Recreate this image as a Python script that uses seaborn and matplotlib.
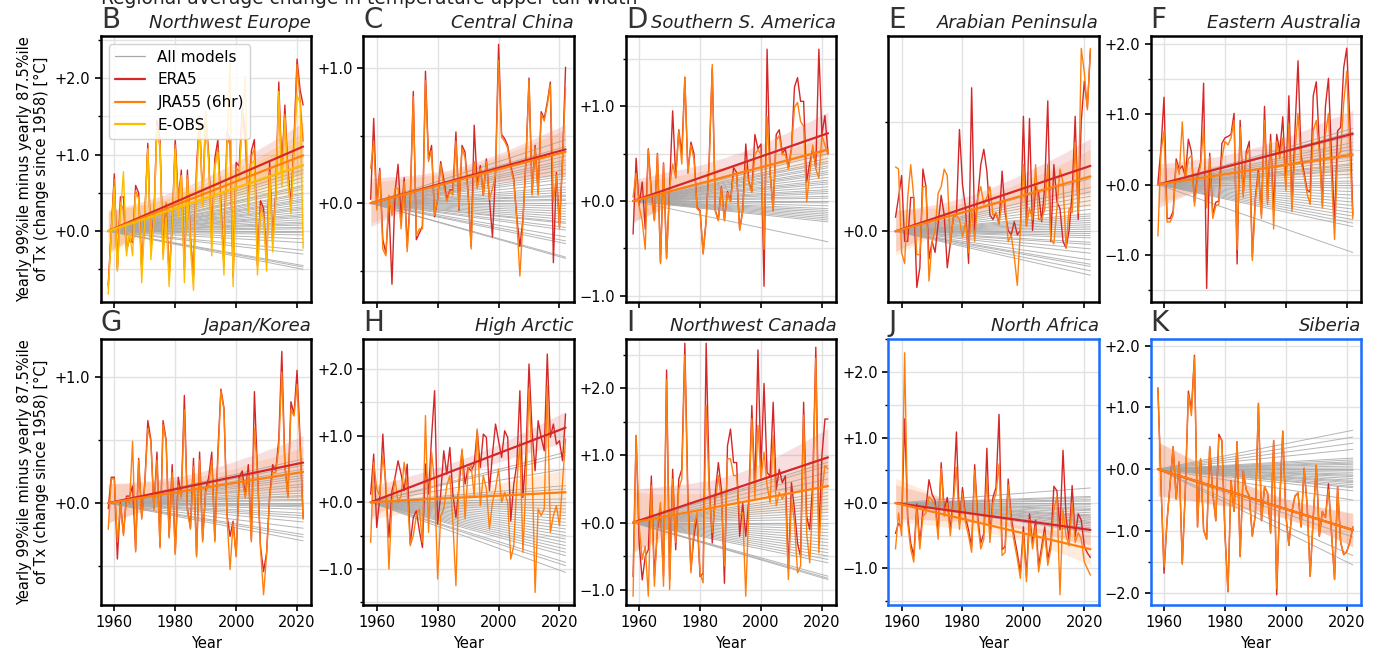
import matplotlib
matplotlib.use('Agg')
import matplotlib.pyplot as plt
from matplotlib.lines import Line2D
from matplotlib.ticker import MultipleLocator, FuncFormatter
import numpy as np
import pandas as pd
import seaborn as sns

years = np.arange(1958, 2023)

# B Northwest Europe
nw_europe_era5 = [-0.70, 0.00, 0.75, -0.50, 0.45, 0.45, -0.25, -0.10, -0.15, 0.60,
                  0.50, -0.50, 0.20, 1.15, -0.25, 0.20, 1.45, 1.20, -0.30, 0.35,
                  -0.60, 0.10, 1.20, 0.40, 0.80, -0.50, 0.80, -0.10, -0.60, 0.85,
                  1.50, 0.40, 1.55, 1.00, -0.15, 0.95, 1.20, 0.35, -0.45, 1.30,
                  1.20, -0.60, 0.90, 0.85, 1.60, 1.30, 0.40, 1.05, 1.20, -0.45,
                  0.40, 0.30, -0.40, 0.90, -0.15, 0.50, 1.95, 0.80, 1.65, 0.80,
                  0.35, 1.20, 2.25, 1.85, 1.65]
nw_europe_jra55 = [-0.72, 0.05, 0.70, -0.45, 0.40, 0.30, -0.20, -0.05, -0.10, 0.55,
                   0.45, -0.45, 0.25, 1.10, -0.20, 0.15, 1.40, 1.10, -0.25, 0.40,
                   -0.55, 0.05, 1.15, 0.45, 0.75, -0.45, 0.75, -0.05, -0.55, 0.80,
                   1.45, 0.35, 1.45, 0.95, -0.10, 0.90, 1.10, 0.30, -0.40, 1.25,
                   1.15, -0.55, 0.85, 0.80, 1.50, 1.20, 0.35, 1.00, 1.10, -0.40,
                   0.35, 0.25, -0.35, 0.80, -0.10, 0.45, 1.80, 0.70, 1.55, 0.70,
                   0.30, 1.10, 2.20, 1.75, 1.20]
nw_europe_eobs = [-0.70, 0.10, 0.70, -0.40, 0.35, 0.90, -0.20, 0.10, -0.20, 0.60,
                  0.55, -0.55, 0.30, 1.20, -0.25, 0.25, 1.50, 1.25, -0.25, 0.30,
                  -0.60, 0.20, 1.20, 0.30, 0.85, -0.55, 0.80, -0.10, -0.65, 0.75,
                  1.60, 0.45, 1.70, 1.00, -0.20, 0.95, 1.15, 0.30, -0.45, 1.20,
                  2.35, -0.60, 0.85, 0.80, 1.55, 2.15, 0.35, 1.00, 1.05, -0.45,
                  0.35, 0.30, -0.40, 0.85, -0.15, 0.50, 1.95, 0.70, 1.60, 0.80,
                  0.35, 1.15, 1.90, 1.80, -0.10]
nw_europe_models = [0.85, 0.80, 0.75, 0.70, 0.65, 0.60, 0.58, 0.55, 0.50, 0.48,
                    0.45, 0.42, 0.40, 0.38, 0.35, 0.32, 0.30, 0.28, 0.25, 0.22,
                    0.20, 0.18, 0.15, 0.12, 0.10, 0.08, 0.05, 0.03, 0.00, -0.02,
                    -0.05, -0.10, -0.15, -0.25, -0.30, -0.45, -0.47, -0.50]

# C Central China
c_china_era5 = [0.00, 0.60, -0.05, 0.23, -0.30, -0.40, -0.05, -0.63, 0.05, 0.26,
                -0.15, 0.16, -0.35, 0.00, 0.80, -0.30, -0.25, -0.20, 0.95, 0.30,
                0.40, -0.13, 0.00, 0.28, 0.15, 0.00, 0.07, 0.07, 0.50, -0.08,
                0.40, 0.35, 0.05, -0.35, 0.55, 0.10, 0.25, 0.03, 0.30, 0.00,
                -0.28, 0.20, 1.15, 0.48, 0.45, 0.40, 0.25, 0.15, -0.14, -0.35,
                -0.15, 0.30, 0.90, 0.05, 0.40, 0.05, 0.65, 0.60, 0.72, 0.87,
                -0.47, 0.20, -0.20, 0.30, 0.98]
c_china_jra55 = [0.25, 0.45, -0.06, 0.23, -0.35, -0.40, 0.05, -0.10, 0.10, 0.10,
                 -0.20, 0.15, -0.37, 0.00, 0.78, -0.25, -0.20, -0.20, 0.90, 0.30,
                 0.38, -0.10, 0.02, 0.28, 0.12, 0.00, 0.08, 0.05, 0.45, -0.05,
                 0.40, 0.33, 0.05, -0.35, 0.30, 0.10, 0.25, 0.05, 0.30, 0.02,
                 0.10, 0.20, 1.05, 0.48, 0.45, 0.40, 0.25, 0.15, -0.14, -0.55,
                 -0.15, 0.30, 0.90, 0.05, 0.40, 0.05, 0.65, 0.60, 0.72, 0.87,
                 0.00, 0.20, -0.20, 0.30, 0.85]
c_china_models = [0.47, 0.42, 0.38, 0.35, 0.32, 0.30, 0.28, 0.25, 0.22, 0.20,
                  0.18, 0.15, 0.12, 0.10, 0.08, 0.06, 0.05, 0.03, 0.02, 0.00,
                  -0.02, -0.04, -0.06, -0.08, -0.10, -0.12, -0.14, -0.15, -0.18, -0.20,
                  -0.25, -0.28, -0.30, -0.40, -0.41]

# D Southern S. America
s_america_era5 = [-0.35, 0.45, -0.05, 0.20, -0.30, 0.55, 0.10, -0.20, 0.50, -0.65,
                  0.40, -0.60, 0.15, 0.95, 0.25, 0.75, 0.50, 1.30, 0.30, 0.62,
                  0.50, -0.07, -0.10, -0.55, -0.20, 0.45, 1.40, -0.10, -0.20, 0.15,
                  -0.20, 0.10, 0.00, 0.35, 0.30, -0.30, -0.10, 0.60, 0.20, 0.10,
                  0.70, 0.55, 0.60, -0.90, 1.60, 0.30, -0.10, 0.70, 0.75, 0.50,
                  0.55, 0.35, 0.55, 1.20, 1.30, 1.05, 1.05, 0.20, 0.40, 0.55,
                  0.35, 1.60, 0.70, 0.90, 0.50]
s_america_jra55 = [0.05, 0.30, -0.05, -0.20, -0.50, 0.55, 0.05, -0.20, 0.50, -0.65,
                   0.40, -0.60, 0.15, 0.40, 0.25, 0.75, 0.40, 1.32, 0.30, 0.60,
                   0.45, -0.07, -0.10, -0.55, -0.20, 0.40, 1.45, -0.10, -0.20, 0.15,
                   -0.20, 0.10, 0.00, 0.30, 0.30, -0.30, -0.10, 0.40, 0.20, 0.10,
                   0.50, 0.55, 0.50, -0.50, 0.90, 0.30, -0.10, 0.65, 0.70, 0.50,
                   0.50, 0.35, 0.55, 1.00, 1.05, 0.85, 0.80, 0.00, 0.30, 0.60,
                   0.35, 0.25, 0.70, 0.60, 0.50]
s_america_models = [0.55, 0.50, 0.45, 0.42, 0.40, 0.37, 0.35, 0.32, 0.30, 0.28,
                    0.25, 0.22, 0.20, 0.18, 0.15, 0.12, 0.10, 0.08, 0.05, 0.03,
                    0.00, -0.02, -0.05, -0.08, -0.10, -0.12, -0.14, -0.16, -0.18, -0.20,
                    -0.22, -0.43]

# E Arabian Peninsula
arabia_era5 = [0.06, 0.15, 0.25, -0.05, -0.05, 0.15, 0.15, -0.26, -0.17, 0.28,
               0.20, -0.13, -0.05, -0.10, 0.03, 0.16, 0.07, -0.17, -0.06, 0.06,
               0.07, 0.46, 0.21, 0.10, -0.15, 0.65, 0.00, 0.15, 0.30, 0.37,
               0.27, 0.07, 0.05, 0.08, 0.03, 0.27, 0.08, 0.00, -0.02, 0.04,
               -0.02, 0.00, 0.52, 0.02, 0.51, 0.00, 0.20, 0.17, 0.04, 0.20,
               0.59, -0.05, 0.30, 0.13, 0.10, -0.05, -0.08, 0.00, 0.17, 0.52,
               0.05, 0.50, 0.68, 0.56, 0.82]
arabia_jra55 = [0.29, 0.28, -0.10, -0.15, 0.15, 0.30, 0.15, -0.11, -0.11, 0.20,
                0.20, -0.23, -0.05, 0.00, 0.17, 0.20, 0.28, 0.25, -0.06, 0.06,
                0.07, 0.05, -0.03, 0.04, -0.10, 0.10, -0.05, 0.15, 0.20, 0.12,
                0.15, 0.20, 0.07, 0.08, 0.03, 0.13, 0.13, -0.05, -0.02, -0.12,
                -0.25, 0.00, 0.30, 0.02, 0.10, 0.05, 0.30, 0.05, 0.05, 0.10,
                0.30, -0.04, -0.06, 0.10, 0.28, 0.22, -0.08, 0.10, 0.08, 0.40,
                0.08, 0.83, 0.72, 0.55, 0.83]
arabia_models = [0.24, 0.20, 0.18, 0.16, 0.14, 0.12, 0.10, 0.08, 0.07, 0.06,
                 0.05, 0.04, 0.03, 0.02, 0.01, 0.00, -0.01, -0.02, -0.03, -0.05,
                 -0.06, -0.08, -0.10, -0.13, -0.15, -0.16, -0.18, -0.20]

# F Eastern Australia
e_australia_era5 = [0.00, 0.50, 1.23, -0.50, -0.50, -0.40, 0.35, 0.20, 0.25, 0.10,
                    0.63, 0.45, -0.27, 0.12, 0.30, 1.43, -1.50, 0.43, -0.45, -0.27,
                    -0.25, 0.57, 0.65, 0.67, 0.70, 1.00, -1.15, 0.90, -0.15, 0.45,
                    0.60, -1.05, -0.20, 0.20, -0.45, 1.10, -0.25, 0.70, -0.40, 0.70,
                    0.45, 0.95, -0.05, 1.25, -0.35, 0.75, 1.75, 0.40, 0.15, -0.10,
                    -0.12, 1.25, 1.45, 0.55, -0.30, 1.10, 1.50, 0.40, -0.55, 0.75,
                    0.80, 1.65, 1.93, 0.90, -0.45]
e_australia_jra55 = [-0.70, 0.50, 0.80, -0.50, -0.50, -0.40, 0.35, 0.18, 0.93, 0.10,
                     0.40, 0.45, -0.27, 0.12, 0.30, 0.85, -0.30, 0.43, -0.45, -0.27,
                     -0.25, 0.40, 0.65, 0.60, 0.70, 0.95, -0.90, 0.85, -0.15, 0.45,
                     0.55, -1.05, -0.20, 0.20, -0.45, 0.95, -0.25, 0.65, -0.60, 0.65,
                     0.40, 0.70, -0.05, 0.90, -0.35, 0.50, 1.05, 0.35, 0.15, -0.10,
                     -0.25, 0.80, 0.95, 0.50, -0.30, 0.75, 1.05, 0.15, -0.75, 0.45,
                     0.50, 1.20, 1.65, 0.55, -0.45]
e_australia_models = [0.80, 0.75, 0.70, 0.60, 0.55, 0.50, 0.45, 0.40, 0.35, 0.30,
                      0.28, 0.25, 0.22, 0.20, 0.15, 0.10, 0.05, 0.02, 0.00, -0.05,
                      -0.10, -0.15, -0.20, -0.25, -0.30, -0.35, -0.40, -0.45, -0.50, -0.55,
                      -0.60, -0.97]

# G Japan/Korea
japan_era5 = [-0.05, 0.20, 0.20, -0.45, 0.00, -0.25, 0.05, 0.05, 0.13, -0.38,
              0.35, -0.12, 0.15, 0.65, 0.50, -0.05, 0.40, -0.35, 0.65, 0.50,
              -0.27, 0.30, -0.40, 0.20, 0.05, 0.85, -0.05, -0.20, 0.35, -0.42,
              0.40, -0.30, 0.10, 0.20, 0.40, -0.30, 0.40, 0.90, 0.75, -0.10,
              -0.27, -0.15, -0.42, 0.20, 0.25, 0.05, 0.30, -0.30, 0.88, 0.25,
              -0.35, -0.55, -0.40, 0.05, 0.30, 0.25, 0.50, 1.20, 0.30, 0.05,
              0.80, 0.70, 1.05, 0.50, -0.12]
japan_jra55 = [-0.20, 0.20, 0.20, -0.30, 0.00, -0.25, 0.05, 0.00, 0.50, -0.38,
               0.35, -0.12, 0.15, 0.60, 0.50, -0.05, 0.35, -0.35, 0.63, 0.50,
               -0.27, 0.25, -0.40, 0.15, 0.05, 0.75, -0.05, -0.20, 0.30, -0.42,
               0.35, -0.30, 0.10, 0.15, 0.35, -0.30, 0.35, 0.90, 0.75, -0.10,
               -0.52, -0.15, -0.42, 0.20, 0.20, 0.05, 0.25, -0.30, 0.60, 0.25,
               -0.35, -0.72, -0.40, 0.05, 0.25, 0.25, 0.45, 1.05, 0.30, 0.05,
               0.75, 0.70, 0.95, 0.45, -0.12]
japan_models = [0.35, 0.32, 0.30, 0.27, 0.24, 0.22, 0.20, 0.18, 0.15, 0.13,
                0.10, 0.08, 0.06, 0.05, 0.03, 0.02, 0.00, -0.01, -0.02, -0.03,
                -0.05, -0.08, -0.10, -0.12, -0.15, -0.20, -0.25, -0.27, -0.30]

# H High Arctic
arctic_era5 = [0.15, 0.75, -0.35, 0.10, 1.05, 0.20, -0.50, 0.20, 0.40, 0.65,
               0.45, 0.20, 0.60, -0.60, -0.20, -0.10, -0.40, -0.65, 0.60, 0.15,
               1.00, 1.70, -0.30, 0.15, 0.80, 0.45, 0.85, 0.15, -0.20, 0.25,
               0.80, 0.30, 0.55, 0.50, 0.60, 1.10, 0.55, 1.05, 1.00, 0.20,
               0.75, 1.20, 0.95, 0.70, 1.10, 1.00, -0.25, 0.30, 0.60, 1.70,
               0.10, 0.75, 2.10, 1.10, 0.50, 1.25, 1.00, 0.80, 2.25, 1.00,
               1.20, 0.90, 0.95, 0.65, 1.35]
arctic_jra55 = [-0.60, 0.60, 0.20, 0.10, 0.70, 0.30, -1.00, 0.00, 0.35, 0.00,
                0.10, 0.60, 0.20, -0.65, -0.50, -0.20, -0.10, -0.60, 1.30, -0.45,
                0.75, 0.30, -1.15, -0.20, -0.10, 0.25, 0.40, -0.30, -1.25, 0.35,
                0.80, -0.25, 0.50, 0.55, 0.10, 1.10, -0.05, 0.40, 0.20, -0.40,
                0.00, 0.20, 0.50, 0.00, 0.15, 0.00, -0.85, -0.65, 0.30, 0.90,
                -0.75, 0.30, 1.70, 0.60, -1.35, -0.10, -0.20, -0.10, 1.75, -0.45,
                -0.20, -0.05, -0.35, 0.30, 0.95]
arctic_models = [0.75, 0.70, 0.50, 0.25, 0.20, 0.15, 0.05, 0.00, -0.05, -0.10,
                 -0.15, -0.20, -0.25, -0.30, -0.35, -0.40, -0.45, -0.50, -0.55, -0.60,
                 -0.65, -0.70, -0.75, -0.80, -0.90, -0.95, -1.05]

# I Northwest Canada
nw_canada_era5 = [-0.90, 1.20, -0.40, -0.95, -0.60, -0.50, 0.60, -0.90, -0.20, 0.10,
                  -0.90, 2.18, -0.95, 0.70, -0.50, 0.55, 0.70, 2.58, 0.30, -0.80,
                  -0.30, 0.00, -0.90, -0.85, 2.58, 0.50, -0.40, 0.35, 0.80, 0.40,
                  -1.00, 1.05, 1.30, 0.80, 0.80, -0.30, 0.20, -0.30, 0.25, 1.65,
                  0.40, 2.48, 0.70, 1.98, 0.65, 0.60, 1.70, 0.40, 0.70, 0.50,
                  0.60, -0.80, 0.50, 0.10, -0.40, -0.60, 1.70, 0.00, -0.20, 0.50,
                  2.52, -0.30, 0.90, 1.45, 1.45]
nw_canada_jra55 = [-1.05, 1.35, 0.00, -0.50, -0.30, -1.05, 0.60, -0.90, 0.00, 0.35,
                   -0.90, 2.18, -0.95, 0.70, -0.25, 0.55, 0.70, 2.55, 0.30, -0.70,
                   0.00, 0.20, -0.70, -0.85, 1.80, 0.50, -0.10, 0.35, 0.75, 0.40,
                   -0.60, 1.00, 1.00, 0.75, 0.75, 0.15, 0.20, -1.05, 0.25, 1.60,
                   0.40, 1.50, 0.70, 1.10, 0.60, 0.35, 1.35, 0.30, 0.50, 0.40,
                   0.50, -0.80, 0.40, 0.05, -0.70, -0.60, 1.65, -0.10, -0.55, 0.40,
                   2.50, -0.40, 0.50, 0.90, 0.85]
nw_canada_models = [0.98, 0.90, 0.85, 0.75, 0.65, 0.55, 0.45, 0.40, 0.35, 0.30,
                    0.25, 0.20, 0.15, 0.10, 0.05, 0.00, -0.05, -0.10, -0.15, -0.20,
                    -0.25, -0.30, -0.35, -0.40, -0.45, -0.50, -0.55, -0.60, -0.80, -0.83,
                    -0.85]

# J North Africa
n_africa_era5 = [-0.55, -0.40, -0.45, 1.20, -0.30, -0.70, -0.90, -0.10, -0.70, -0.20,
                 -0.15, 0.27, 0.05, -0.05, -0.55, 0.53, -0.20, 0.00, -0.50, 0.00,
                 1.00, -0.40, 0.15, -0.30, -0.50, -0.75, 0.50, -0.30, -0.70, -0.55,
                 0.75, -0.60, 0.00, 0.15, 1.27, -0.80, -0.75, 0.28, -0.30, -0.60,
                 -0.85, -1.15, -0.45, -1.20, -0.25, -0.70, -0.35, -1.05, -0.75, -0.45,
                 -0.95, -0.70, 0.17, 0.10, -0.50, 0.72, -0.30, -0.65, 0.18, -0.60,
                 -0.25, -0.35, -0.75, -0.85, -0.92]
n_africa_jra55 = [-0.70, -0.15, -0.50, 2.30, -0.30, -0.70, -0.90, -0.10, -0.70, -0.20,
                  -0.15, 0.10, 0.05, -0.05, -0.55, 0.53, -0.20, 0.00, -0.50, 0.00,
                  0.55, -0.40, 0.15, -0.30, -0.50, -0.75, 0.50, -0.30, -0.70, -0.55,
                  0.40, -0.60, 0.00, 0.15, 0.60, -0.80, -0.75, 0.28, -0.30, -0.60,
                  -0.85, -1.15, -0.45, -1.20, -0.25, -0.70, -0.35, -1.05, -0.75, -0.45,
                  -0.95, -0.70, -0.10, 0.10, -1.40, -0.10, -0.50, -0.65, 0.00, -0.60,
                  -0.45, -0.55, -0.90, -1.00, -1.10]
n_africa_models = [0.23, 0.10, 0.08, 0.05, 0.03, 0.00, -0.02, -0.05, -0.08, -0.10,
                   -0.12, -0.15, -0.18, -0.20, -0.22, -0.25, -0.28, -0.30, -0.32, -0.35,
                   -0.38, -0.40, -0.42, -0.45]

# K Siberia
siberia_era5 = [1.35, -0.20, -1.65, -0.80, -0.20, 0.40, -0.45, 0.15, -1.50, -0.30,
                1.30, 1.00, 1.88, -0.90, 0.20, -0.95, -1.10, 0.40, -0.35, -0.80,
                0.60, 0.50, -1.00, -1.95, -0.15, -0.65, 0.48, -1.38, 0.00, -0.30,
                -0.40, -1.05, -0.70, 1.10, -0.80, -0.25, -0.35, -1.00, 0.50, -2.00,
                -0.50, 0.65, -0.70, -1.20, -0.65, -0.40, -0.35, -0.90, 0.05, -0.55,
                -1.70, -0.75, 0.10, -1.05, -0.65, -0.75, -0.20, -1.00, -1.75, -0.25,
                -1.15, -1.35, -1.30, -1.15, -0.90]
siberia_jra55 = [1.35, -0.20, -1.55, -0.80, -0.20, 0.40, -0.45, 0.15, -1.50, -0.30,
                 1.25, 0.90, 1.85, -0.90, 0.20, -0.95, -1.10, 0.40, -0.35, -0.80,
                 0.55, 0.50, -1.00, -1.95, -0.15, -0.65, 0.48, -1.38, 0.00, -0.30,
                 -0.40, -1.05, -0.70, 1.10, -0.80, -0.25, -0.35, -1.00, 0.50, -1.90,
                 -0.50, 0.65, -0.70, -1.20, -0.65, -0.40, -0.35, -0.90, 0.05, -0.55,
                 -1.70, -0.75, 0.10, -1.05, -0.65, -0.75, -0.30, -1.00, -1.75, -0.25,
                 -1.15, -1.35, -1.30, -1.15, -0.90]
siberia_models = [0.63, 0.52, 0.42, 0.32, 0.18, 0.15, 0.12, 0.10, 0.08, 0.05,
                  0.02, 0.00, -0.02, -0.05, -0.08, -0.10, -0.12, -0.15, -0.18, -0.20,
                  -0.22, -0.25, -0.28, -0.30, -0.35, -0.50, -1.10, -1.40, -1.55]

panels = [
    ('B', 'Northwest Europe', nw_europe_era5, nw_europe_jra55, nw_europe_eobs, nw_europe_models),
    ('C', 'Central China', c_china_era5, c_china_jra55, None, c_china_models),
    ('D', 'Southern S. America', s_america_era5, s_america_jra55, None, s_america_models),
    ('E', 'Arabian Peninsula', arabia_era5, arabia_jra55, None, arabia_models),
    ('F', 'Eastern Australia', e_australia_era5, e_australia_jra55, None, e_australia_models),
    ('G', 'Japan/Korea', japan_era5, japan_jra55, None, japan_models),
    ('H', 'High Arctic', arctic_era5, arctic_jra55, None, arctic_models),
    ('I', 'Northwest Canada', nw_canada_era5, nw_canada_jra55, None, nw_canada_models),
    ('J', 'North Africa', n_africa_era5, n_africa_jra55, None, n_africa_models),
    ('K', 'Siberia', siberia_era5, siberia_jra55, None, siberia_models),
]

ylims = [(-0.92, 2.55), (-0.73, 1.24), (-1.06, 1.74), (-0.32, 0.89), (-1.67, 2.12),
         (-0.81, 1.30), (-1.54, 2.44), (-1.23, 2.73), (-1.56, 2.50), (-2.2, 2.1)]
highlighted = {'J', 'K'}

ERA5_COLOR = '#d62728'
JRA_COLOR = '#ff7f0e'
EOBS_COLOR = '#ffbb00'
MODEL_COLOR = '#a8a8a8'
HIGHLIGHT = '#1a6cff'


def signed(v, pos):
    if abs(v) < 1e-9:
        v = 0.0
    return f'{v:+.1f}'.replace('-', '\u2212')


def since_1958(vals):
    # anomalies relative to the fitted value in 1958
    vals = np.asarray(vals, dtype=float)
    slope, icpt = np.polyfit(years, vals, 1)
    return vals - (slope * years[0] + icpt)


def models_frame(ends):
    rows = []
    for k, e in enumerate(ends):
        rows.append({'model': k, 'year': years[0], 'change': 0.0})
        rows.append({'model': k, 'year': years[-1], 'change': e})
    return pd.DataFrame(rows)


sns.set_style('ticks')
plt.rcParams['font.family'] = ['DejaVu Sans']
plt.rcParams.update({'text.color': 'black', 'axes.labelcolor': 'black',
                     'xtick.color': 'black', 'ytick.color': 'black'})

fig, axes = plt.subplots(2, 5, figsize=(13.73, 6.5), dpi=100)
fig.subplots_adjust(left=0.0735, right=0.9913, top=0.9446, bottom=0.0692,
                    wspace=0.247, hspace=0.143)

for idx, (letter, region, era5, jra, eobs, models) in enumerate(panels):
    ax = axes.flat[idx]
    bottom_row = idx >= 5

    sns.lineplot(data=models_frame(models), x='year', y='change', units='model',
                 estimator=None, color=MODEL_COLOR, lw=0.7, alpha=0.85, ax=ax, legend=False)

    series = [(era5, ERA5_COLOR), (jra, JRA_COLOR)]
    if eobs is not None:
        series.append((eobs, EOBS_COLOR))
    for vals, col in series:
        sns.lineplot(x=years, y=since_1958(vals), color=col, lw=1.0, ax=ax)
    for vals, col in series:
        sns.regplot(x=years, y=since_1958(vals), scatter=False, color=col, ax=ax,
                    truncate=True, seed=0, line_kws={'lw': 1.6, 'zorder': 5})

    ax.set_xlim(1955.6, 2024.7)
    ax.set_ylim(*ylims[idx])
    ax.xaxis.set_major_locator(MultipleLocator(20))
    ax.yaxis.set_major_locator(MultipleLocator(1.0))
    ax.yaxis.set_minor_locator(MultipleLocator(0.5))
    ax.yaxis.set_major_formatter(FuncFormatter(signed))
    ax.grid(True, axis='y', which='both', color='#e2e2e2', lw=1.0)
    ax.grid(True, axis='x', which='major', color='#e2e2e2', lw=1.0)
    ax.set_axisbelow(True)
    ax.tick_params(axis='both', which='major', labelsize=10.5, length=4, width=1.2)
    ax.tick_params(axis='y', which='minor', length=2.5, width=1.0)
    for sp in ax.spines.values():
        sp.set_linewidth(1.8)
        sp.set_color(HIGHLIGHT if letter in highlighted else 'black')

    if bottom_row:
        ax.set_xlabel('Year', fontsize=10.5)
    else:
        ax.set_xlabel('')
        ax.tick_params(axis='x', labelbottom=False)
    if idx % 5 == 0:
        ax.set_ylabel('Yearly 99%ile minus yearly 87.5%ile\nof Tx (change since 1958) [°C]',
                      fontsize=10.5)
    else:
        ax.set_ylabel('')

    ax.set_title(letter, loc='left', fontsize=20, color='#333333', pad=6)
    ax.set_title(region, loc='right', fontsize=13, style='italic', color='#222222', pad=6)

handles = [Line2D([], [], color=MODEL_COLOR, lw=0.9, label='All models'),
           Line2D([], [], color=ERA5_COLOR, lw=1.6, label='ERA5'),
           Line2D([], [], color=JRA_COLOR, lw=1.6, label='JRA55 (6hr)'),
           Line2D([], [], color=EOBS_COLOR, lw=1.6, label='E-OBS')]
axes[0, 0].legend(handles=handles, loc='upper left', fontsize=11, framealpha=0.85,
                  edgecolor='#cccccc')

fig.text(0.0735, 0.9938, 'Regional average change in temperature upper tail width',
         fontsize=13.4, color='#222222', va='baseline')

fig.savefig('out.png', dpi=100)
